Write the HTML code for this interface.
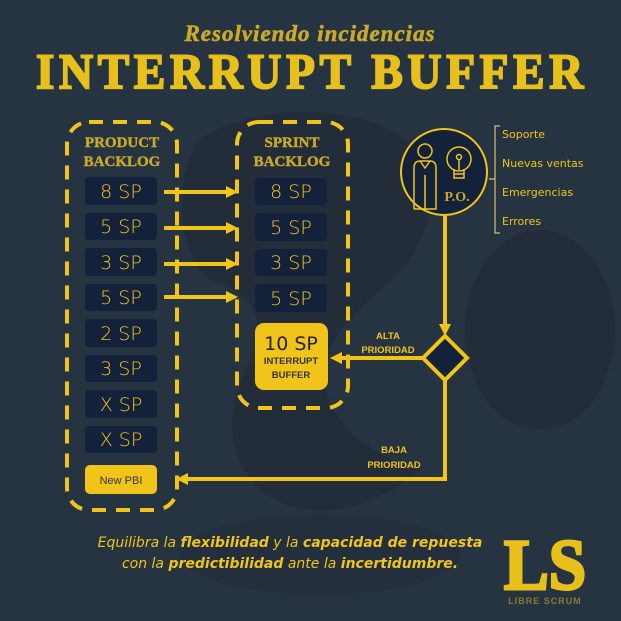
<!DOCTYPE html>
<html><head><meta charset="utf-8"><style>
html,body{margin:0;padding:0;background:#263341;}
svg{display:block}
</style></head><body>
<svg width="621" height="621" viewBox="0 0 621 621" xmlns="http://www.w3.org/2000/svg">
<rect width="621" height="621" fill="#263341"/>
<g fill="#222a36">
<path d="M200 140 C240 110 330 100 390 130 C430 150 440 200 420 240 C400 290 350 300 330 350 C310 400 350 450 420 470 C360 520 300 520 260 490 C220 450 230 400 250 360 C270 320 250 290 210 280 C180 260 170 180 200 140Z" opacity="0.7"/>
<ellipse cx="540" cy="330" rx="75" ry="100" opacity="0.6"/>
<ellipse cx="320" cy="555" rx="140" ry="40" opacity="0.4"/>
</g>
<text x="310" y="41" text-anchor="middle" font-family="Liberation Serif, serif" font-weight="bold" font-style="italic" font-size="23" fill="#c9a92a" stroke="#c9a92a" stroke-width="0.6" letter-spacing="1">Resolviendo incidencias</text>
<text x="312" y="88" text-anchor="middle" font-family="Liberation Serif, serif" font-weight="bold" font-size="50" fill="#e8c01c" stroke="#e8c01c" stroke-width="2" letter-spacing="5" textLength="552" lengthAdjust="spacingAndGlyphs">INTERRUPT BUFFER</text>

<g fill="none" stroke="#f0c419" stroke-width="4" stroke-dasharray="14 10">
<rect x="67" y="122" width="110" height="388" rx="22"/>
<rect x="237" y="122" width="111" height="286" rx="22"/>
</g>
<g font-family="Liberation Serif, serif" font-weight="bold" font-size="15" fill="#c9a92a" stroke="#c9a92a" stroke-width="0.4" text-anchor="middle">
<text x="122" y="147">PRODUCT</text><text x="122" y="166">BACKLOG</text>
<text x="292" y="147">SPRINT</text><text x="292" y="166">BACKLOG</text>
</g>

<g fill="#13213a">
<rect x="85" y="177" width="72" height="28" rx="4"/>
<rect x="85" y="213" width="72" height="27" rx="4"/>
<rect x="85" y="248" width="72" height="28" rx="4"/>
<rect x="85" y="284" width="72" height="27" rx="4"/>
<rect x="85" y="319" width="72" height="28" rx="4"/>
<rect x="85" y="355" width="72" height="27" rx="4"/>
<rect x="85" y="390" width="72" height="28" rx="4"/>
<rect x="85" y="426" width="72" height="27" rx="4"/>
<rect x="255" y="178" width="72" height="27" rx="4"/>
<rect x="255" y="213" width="72" height="28" rx="4"/>
<rect x="255" y="249" width="72" height="27" rx="4"/>
<rect x="255" y="284" width="72" height="28" rx="4"/>
</g>
<g font-family="DejaVu Sans, sans-serif" font-weight="200" font-size="19" fill="#f0c419" text-anchor="middle">
<text x="121" y="198">8 SP</text><text x="121" y="233">5 SP</text><text x="121" y="269">3 SP</text><text x="121" y="304">5 SP</text>
<text x="121" y="340">2 SP</text><text x="121" y="375">3 SP</text><text x="121" y="411">X SP</text><text x="121" y="446">X SP</text>
<text x="291" y="198">8 SP</text><text x="291" y="234">5 SP</text><text x="291" y="269">3 SP</text><text x="291" y="305">5 SP</text>
</g>
<rect x="85" y="465" width="72" height="29" rx="5" fill="#f0c419"/>
<text x="121" y="484" text-anchor="middle" font-family="Liberation Sans, sans-serif" font-size="11" fill="#333">New PBI</text>
<rect x="255" y="323" width="73" height="67" rx="9" fill="#f0c419"/>
<text x="291" y="350" text-anchor="middle" font-family="DejaVu Sans, sans-serif" font-size="19" fill="#222">10 SP</text>
<text x="291" y="364" text-anchor="middle" font-family="Liberation Sans, sans-serif" font-weight="bold" font-size="9.5" fill="#333">INTERRUPT</text>
<text x="291" y="378" text-anchor="middle" font-family="Liberation Sans, sans-serif" font-weight="bold" font-size="9.5" fill="#333">BUFFER</text>

<g stroke="#f0c419" stroke-width="4" fill="none">
<line x1="164" y1="192" x2="228" y2="192"/>
<line x1="164" y1="228" x2="228" y2="228"/>
<line x1="164" y1="264" x2="228" y2="264"/>
<line x1="164" y1="297" x2="228" y2="297"/>
<line x1="445" y1="215" x2="445" y2="326"/>
<line x1="423" y1="358" x2="340" y2="358"/>
<polyline points="445,380 445,479 186,479"/>
</g>
<g fill="#f0c419">
<polygon points="238,192 226,186 226,198"/>
<polygon points="238,228 226,222 226,234"/>
<polygon points="238,264 226,258 226,270"/>
<polygon points="238,297 226,291 226,303"/>
<polygon points="445,336 439,324 451,324"/>
<polygon points="330,358 342,352 342,364"/>
<polygon points="176,479 188,473 188,485"/>
</g>
<polygon points="445,336 467,358 445,380 423,358" fill="#13213a" stroke="#f0c419" stroke-width="4"/>
<g font-family="Liberation Sans, sans-serif" font-weight="bold" font-size="9.5" fill="#f0c419" text-anchor="middle">
<text x="388" y="339">ALTA</text><text x="388" y="353">PRIORIDAD</text>
<text x="394" y="453">BAJA</text><text x="394" y="468">PRIORIDAD</text>
</g>

<circle cx="444" cy="172" r="43" fill="#13213a" stroke="#f0c419" stroke-width="2"/>
<g stroke="#f0c419" stroke-width="1.5" fill="none">
<circle cx="425" cy="151" r="7"/>
<path d="M414 209 V168 Q414 161 420 161 H430 Q436 161 436 168 V209 H414 M425 175 V209 M420 161 L425 168 L430 161"/>
<circle cx="459" cy="159" r="12"/>
<path d="M454 169 V178 H464 V169 M454 174 H464 M459 170 V159"/>
<circle cx="459" cy="157" r="2.5"/>
</g>
<text x="457" y="201" text-anchor="middle" font-family="Liberation Serif, serif" font-weight="bold" font-size="14" fill="#c9a92a">P.O.</text>
<path d="M500 126 H495 V233 H500 M489 179 H495" stroke="#d8c070" stroke-width="1.2" fill="none"/>
<g font-family="DejaVu Sans, sans-serif" font-size="11" fill="#f0c419">
<text x="502" y="138">Soporte</text><text x="502" y="167">Nuevas ventas</text>
<text x="502" y="196">Emergencias</text><text x="502" y="225">Errores</text>
</g>

<g font-family="DejaVu Sans, sans-serif" font-style="italic" font-size="14" fill="#f0c419" text-anchor="middle">
<text x="290" y="547" font-weight="300">Equilibra la <tspan font-weight="bold">flexibilidad</tspan> y la <tspan font-weight="bold">capacidad de repuesta</tspan></text>
<text x="290" y="568">con la <tspan font-weight="bold">predictibilidad</tspan> ante la <tspan font-weight="bold">incertidumbre.</tspan></text>
</g>
<text x="545" y="589" text-anchor="middle" font-family="Liberation Serif, serif" font-weight="bold" font-size="72" fill="#e8c01c" stroke="#e8c01c" stroke-width="3" textLength="82" lengthAdjust="spacingAndGlyphs">LS</text>
<text x="545" y="604" text-anchor="middle" font-family="Liberation Sans, sans-serif" font-weight="bold" font-size="9" fill="#8a7a30" letter-spacing="1">LIBRE SCRUM</text>
</svg>
</body></html>
